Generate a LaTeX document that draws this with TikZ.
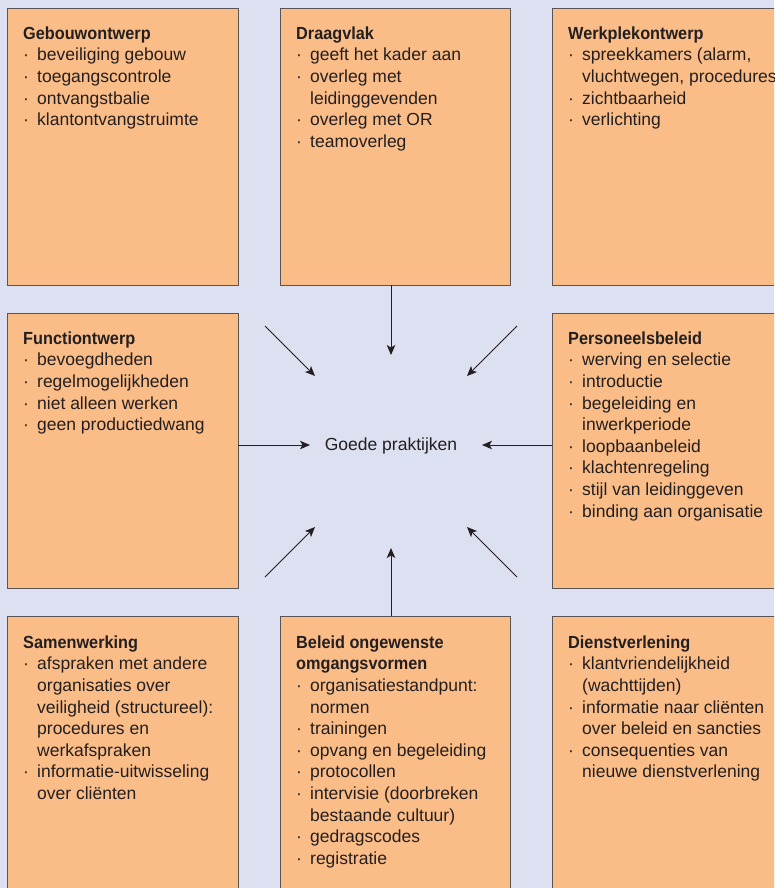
\documentclass[tikz,border=0pt]{standalone}
\usepackage{fontspec}
\setmainfont{Liberation Sans}
\newfontfamily\hd{Liberation Sans}[FakeStretch=0.93]
\usetikzlibrary{arrows.meta}
\definecolor{bg}{RGB}{220,224,240}
\definecolor{boxfill}{RGB}{251,189,135}
\definecolor{boxline}{RGB}{90,85,85}
\definecolor{txt}{RGB}{35,31,32}
\newcommand\bi{\makebox[14pt][l]{·}}
\newcommand\ci{\hspace*{14pt}}
\newcommand\hdr[1]{{\hd\bfseries #1}}
\begin{document}
\begin{tikzpicture}[x=1pt,y=-1pt,
  panel/.style={draw=boxline,fill=boxfill,line width=0.8pt,anchor=north west,inner sep=0pt,outer sep=0pt},
  txtbox/.style={anchor=north west,inner sep=0pt,align=left,text=txt,font=\fontsize{17.5}{21.6}\selectfont},
  arr/.style={-{Stealth[length=10pt,width=8.5pt,inset=2.5pt]},line width=0.9pt,draw=txt}]
\fill[bg] (0,0) rectangle (774,888);
\useasboundingbox (0,0) rectangle (774,888);
\clip (0,0) rectangle (774,888);

% panels
\node[panel,minimum width=231pt,minimum height=277pt] (geb) at (7,8) {};
\node[panel,minimum width=230pt,minimum height=277pt] (drg) at (280,8) {};
\node[panel,minimum width=235pt,minimum height=277pt] (wrk) at (552,8) {};
\node[panel,minimum width=231pt,minimum height=275pt] (fun) at (7,313) {};
\node[panel,minimum width=235pt,minimum height=275pt] (per) at (552,313) {};
\node[panel,minimum width=231pt,minimum height=280pt] (sam) at (7,616) {};
\node[panel,minimum width=230pt,minimum height=280pt] (bel) at (280,616) {};
\node[panel,minimum width=235pt,minimum height=280pt] (die) at (552,616) {};

% texts
\node[txtbox] (tgeb) at (23,24) {\strut\hdr{Gebouwontwerp}\\
\bi beveiliging gebouw\\
\bi toegangscontrole\\
\bi ontvangstbalie\\
\bi klantontvangstruimte};

\node[txtbox] (tdrg) at (296,24) {\strut\hdr{Draagvlak}\\
\bi geeft het kader aan\\
\bi overleg met\\
\ci leidinggevenden\\
\bi overleg met OR\\
\bi teamoverleg};

\node[txtbox] (twrk) at (568,24) {\strut\hdr{Werkplekontwerp}\\
\bi spreekkamers (alarm,\\
\ci vluchtwegen, procedures)\\
\bi zichtbaarheid\\
\bi verlichting};

\node[txtbox] (tfun) at (23,329) {\strut\hdr{Functiontwerp}\\
\bi bevoegdheden\\
\bi regelmogelijkheden\\
\bi niet alleen werken\\
\bi geen productiedwang};

\node[txtbox] (tper) at (568,329) {\strut\hdr{Personeelsbeleid}\\
\bi werving en selectie\\
\bi introductie\\
\bi begeleiding en\\
\ci inwerkperiode\\
\bi loopbaanbeleid\\
\bi klachtenregeling\\
\bi stijl van leidinggeven\\
\bi binding aan organisatie};

\node[txtbox] (tsam) at (23,633) {\strut\hdr{Samenwerking}\\
\bi afspraken met andere\\
\ci organisaties over\\
\ci veiligheid (structureel):\\
\ci procedures en\\
\ci werkafspraken\\
\bi informatie-uitwisseling\\
\ci over cliënten};

\node[txtbox] (tbel) at (296,633) {\strut\hdr{Beleid ongewenste}\\
\hdr{omgangsvormen}\\
\bi organisatiestandpunt:\\
\ci normen\\
\bi trainingen\\
\bi opvang en begeleiding\\
\bi protocollen\\
\bi intervisie (doorbreken\\
\ci bestaande cultuur)\\
\bi gedragscodes\\
\bi registratie};

\node[txtbox] (tdie) at (568,633) {\strut\hdr{Dienstverlening}\\
\bi klantvriendelijkheid\\
\ci (wachttijden)\\
\bi informatie naar cliënten\\
\ci over beleid en sancties\\
\bi consequenties van\\
\ci nieuwe dienstverlening};

% centre
\node[anchor=base,inner sep=0pt,text=txt,font=\fontsize{17.5}{21.6}\selectfont] (gp) at (391,450) {Goede praktijken};

% arrow coordinates
\coordinate (tT) at (391,355);
\coordinate (tB) at (391,548);
\coordinate (tL) at (310,445);
\coordinate (tR) at (482,445);
\coordinate (sUL) at (265,326);
\coordinate (tUL) at (315,376);
\coordinate (sUR) at (517,326);
\coordinate (tUR) at (467,376);
\coordinate (sLL) at (265,577);
\coordinate (tLL) at (315,527);
\coordinate (sLR) at (517,577);
\coordinate (tLR) at (467,527);

\draw[arr] (drg.south -| tT) -- (tT);
\draw[arr] (bel.north -| tB) -- (tB);
\draw[arr] (fun.east |- tL) -- (tL);
\draw[arr] (per.west |- tR) -- (tR);
\draw[arr] (sUL) -- (tUL);
\draw[arr] (sUR) -- (tUR);
\draw[arr] (sLL) -- (tLL);
\draw[arr] (sLR) -- (tLR);
\end{tikzpicture}
\end{document}
